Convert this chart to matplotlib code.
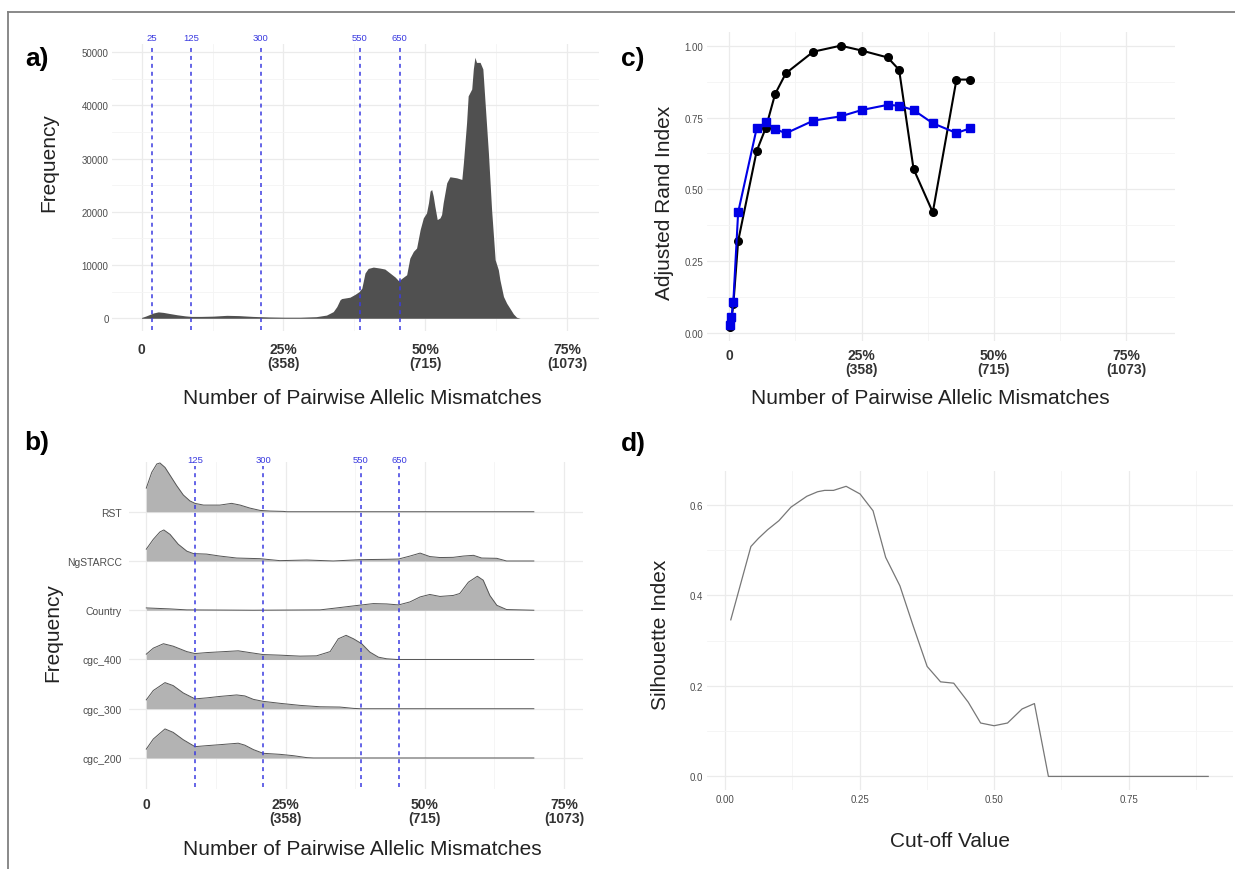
import matplotlib
matplotlib.use("Agg")
import matplotlib.pyplot as plt
from matplotlib.lines import Line2D
from matplotlib.ticker import FixedLocator
import numpy as np

plt.rcParams['font.family'] = ['Liberation Sans', 'DejaVu Sans']

# ---------------- data ----------------
# a) histogram of pairwise allelic mismatches (profile read off the picture)
hist_x = [0, 10, 20, 30, 42, 55, 70, 90, 110, 125, 150, 180, 215, 245, 280, 320, 360, 400,
          440, 466, 483, 492, 500, 504, 525, 538, 548, 555, 563, 571, 584, 601, 613, 626,
          639, 647, 651, 660, 668, 676, 685, 693, 702, 710, 718, 723, 727, 731, 735, 739,
          745, 752, 756, 760, 769, 777, 794, 807, 811, 819, 823, 832, 836, 840, 844, 853,
          860, 865, 874, 882, 891, 899, 903, 912, 920, 928, 937, 945, 954]
hist_y = [150, 400, 700, 1000, 1200, 1100, 900, 650, 450, 350, 350, 400, 550, 500, 350, 250,
          200, 200, 300, 600, 1250, 2200, 3460, 3700, 3960, 4500, 5000, 5660, 8500, 9370,
          9620, 9430, 9250, 8500, 7740, 7100, 7230, 7740, 8180, 11300, 12580, 13200, 16670,
          18870, 19800, 21700, 23900, 24200, 22960, 21070, 18550, 18870, 19500, 21700, 25470,
          26600, 26400, 26100, 29250, 36800, 41800, 43100, 46860, 49060, 48100, 48100, 46860,
          41200, 31100, 20440, 11000, 9120, 7230, 4090, 2830, 1890, 820, 190, 0]

cutoffs_a = [25, 125, 300, 550, 650]
cutoffs_b = [125, 300, 550, 650]

x_ticks = [0, 357.5, 715, 1072.5]
x_ticklabels = ["0", "25%\n(358)", "50%\n(715)", "75%\n(1073)"]

# b) ridgelines (heights relative to row spacing)
ridge_names = ["RST", "NgSTARCC", "Country", "cgc_400", "cgc_300", "cgc_200"]
rst_x = [0, 14, 27, 35, 48, 61, 78, 95, 112, 125, 147, 189, 219, 241, 266, 292, 318, 352, 360, 995]
rst_h = [0.48, 0.80, 0.97, 0.99, 0.90, 0.74, 0.53, 0.34, 0.22, 0.17, 0.135, 0.135, 0.17, 0.135,
         0.074, 0.027, 0.014, 0.007, 0.0, 0.0]
ng_x = [0, 18, 35, 45, 61, 82, 104, 121, 155, 189, 232, 292, 343, 412, 480, 549, 617, 648, 677,
        703, 728, 754, 788, 814, 840, 861, 900, 925, 995]
ng_h = [0.24, 0.44, 0.59, 0.63, 0.54, 0.34, 0.20, 0.15, 0.14, 0.10, 0.06, 0.047, 0.007, 0.02,
        0.0, 0.027, 0.034, 0.04, 0.10, 0.16, 0.09, 0.07, 0.074, 0.10, 0.115, 0.06, 0.054, 0.0, 0.0]
co_x = [0, 61, 104, 275, 446, 489, 532, 583, 617, 648, 677, 703, 728, 754, 788, 805, 827, 850,
        865, 882, 900, 925, 995]
co_h = [0.047, 0.027, 0.007, 0.0, 0.007, 0.047, 0.088, 0.135, 0.128, 0.108, 0.169, 0.27, 0.32,
        0.28, 0.30, 0.34, 0.57, 0.69, 0.61, 0.30, 0.10, 0.014, 0.0]
c400_x = [0, 18, 44, 69, 104, 125, 155, 189, 236, 266, 300, 343, 395, 437, 472, 493, 513, 532,
          553, 574, 596, 617, 643, 995]
c400_h = [0.108, 0.23, 0.32, 0.27, 0.16, 0.12, 0.14, 0.155, 0.176, 0.14, 0.10, 0.088, 0.068,
          0.074, 0.16, 0.42, 0.49, 0.42, 0.32, 0.15, 0.047, 0.014, 0.0, 0.0]
c300_x = [0, 18, 48, 69, 95, 125, 155, 189, 232, 253, 275, 300, 343, 395, 446, 497, 532, 549, 995]
c300_h = [0.18, 0.37, 0.53, 0.47, 0.32, 0.20, 0.22, 0.25, 0.28, 0.26, 0.19, 0.15, 0.11, 0.068,
          0.04, 0.034, 0.007, 0.0, 0.0]
c200_x = [0, 18, 48, 69, 95, 125, 155, 189, 236, 253, 275, 300, 343, 377, 412, 429, 995]
c200_h = [0.18, 0.385, 0.59, 0.52, 0.37, 0.23, 0.25, 0.27, 0.30, 0.26, 0.17, 0.095, 0.074,
          0.047, 0.007, 0.0, 0.0]

# c) adjusted Rand index
ari_x = [2, 6, 11, 24, 74, 99, 124, 153, 227, 301, 358, 428, 459, 498, 550, 614, 650]
ari_black = [0.02, 0.05, 0.10, 0.32, 0.633, 0.715, 0.832, 0.904, 0.979, 1.0, 0.983, 0.959,
             0.916, 0.571, 0.42, 0.882, 0.882]
ari_blue = [0.026, 0.055, 0.109, 0.42, 0.712, 0.733, 0.71, 0.695, 0.739, 0.754, 0.776, 0.794,
            0.791, 0.776, 0.73, 0.696, 0.712]

# d) silhouette index
sil_x = [0.0106, 0.048, 0.062, 0.079, 0.1, 0.1225, 0.152, 0.172, 0.185, 0.2015, 0.225, 0.251,
         0.275, 0.2985, 0.325, 0.3495, 0.3756, 0.4005, 0.425, 0.452, 0.475, 0.5, 0.525, 0.552,
         0.575, 0.601, 0.65, 0.7, 0.75, 0.8, 0.85, 0.898]
sil_y = [0.346, 0.508, 0.526, 0.545, 0.565, 0.595, 0.619, 0.629, 0.632, 0.632, 0.641, 0.624,
         0.587, 0.484, 0.421, 0.333, 0.243, 0.209, 0.206, 0.164, 0.118, 0.112, 0.118, 0.149,
         0.161, 0.0, 0.0, 0.0, 0.0, 0.0, 0.0, 0.0]

# ---------------- figure ----------------
W, H = 1235, 870
fig = plt.figure(figsize=(W / 100, H / 100), dpi=100)

def px_axes(left, top, right, bottom):
    return fig.add_axes([left / W, 1 - bottom / H, (right - left) / W, (bottom - top) / H])

GRID_MAJ = dict(color='#ebebeb', lw=0.9)
GRID_MIN = dict(color='#f4f4f4', lw=0.6)
BLUE_V = '#3a3ae0'
TITLE_KW = dict(fontsize=15, color='#222222')

def minimal(ax):
    for s in ax.spines.values():
        s.set_visible(False)
    ax.tick_params(which='both', length=0)
    ax.set_axisbelow(True)
    ax.grid(which='major', **GRID_MAJ)
    ax.grid(which='minor', **GRID_MIN)

def bold_xticks(ax, pad):
    ax.set_xticks(x_ticks)
    ax.set_xticklabels(x_ticklabels, fontsize=10, fontweight='bold', color='#333333',
                       linespacing=1.05)
    ax.xaxis.set_minor_locator(FixedLocator([178.75, 536.25, 893.75]))
    ax.tick_params(axis='x', pad=pad)

# ---- a) ----
ax_a = px_axes(112, 45.3, 599, 332.3)
minimal(ax_a)
ax_a.fill_between(hist_x, hist_y, 0, color='#505050', lw=0, zorder=2)
ax_a.set_xlim(-74.6, 1152.7)
ax_a.set_ylim(-2450, 51500)
ax_a.set_yticks([0, 10000, 20000, 30000, 40000, 50000])
ax_a.set_yticklabels(["0", "10000", "20000", "30000", "40000", "50000"], fontsize=7, color='#4d4d4d')
ax_a.yaxis.set_minor_locator(FixedLocator([5000, 15000, 25000, 35000, 45000]))
ax_a.tick_params(axis='y', pad=2.4)
bold_xticks(ax_a, 7.5)
for v in cutoffs_a:
    ax_a.axvline(v, ymin=0.005, ymax=0.995, color=BLUE_V, lw=1.1, dashes=(2.6, 2.6), zorder=3)
    ax_a.text(v, 1.023, str(v), transform=ax_a.get_xaxis_transform(), ha='center', va='center',
              fontsize=6.8, color=BLUE_V, clip_on=False)

# ---- b) ----
ax_b = px_axes(128.5, 463, 583.3, 790)
minimal(ax_b)
ax_b.set_xlim(-45.7, 1122)
ax_b.set_ylim(0.37, 7.01)
ridges = [(rst_x, rst_h), (ng_x, ng_h), (co_x, co_h), (c400_x, c400_h), (c300_x, c300_h), (c200_x, c200_h)]
for i, (xs, hs) in enumerate(ridges):
    base = 6 - i
    top = base + np.asarray(hs)
    ax_b.fill_between(xs, base, top, color='#b3b3b3', lw=0, zorder=2 + i)
    ax_b.plot(xs, top, color='#555555', lw=0.7, zorder=2 + i)
ax_b.set_yticks([6, 5, 4, 3, 2, 1])
ax_b.set_yticklabels(ridge_names, fontsize=7.5, color='#4d4d4d')
ax_b.tick_params(axis='y', pad=4.8)
ax_b.grid(axis='y', which='minor', visible=False)
bold_xticks(ax_b, 5.5)
for v in cutoffs_b:
    ax_b.axvline(v, ymin=0.006, ymax=0.989, color=BLUE_V, lw=1.1, dashes=(2.6, 2.6), zorder=20)
    ax_b.text(v, 1.007, str(v), transform=ax_b.get_xaxis_transform(), ha='center', va='center',
              fontsize=6.8, color=BLUE_V, clip_on=False)

# ---- c) ----
ax_c = px_axes(706.7, 32.6, 1175, 342.3)
minimal(ax_c)
ax_c.plot(ari_x, ari_black, '-o', color='black', ms=5.5, lw=1.5, zorder=3)
ax_c.plot(ari_x, ari_blue, '-s', color='#0000e6', ms=5.2, lw=1.5, zorder=4)
ax_c.set_xlim(-61, 1204.6)
ax_c.set_ylim(-0.029, 1.049)
ax_c.set_yticks([0, 0.25, 0.5, 0.75, 1.0])
ax_c.set_yticklabels(["0.00", "0.25", "0.50", "0.75", "1.00"], fontsize=7, color='#4d4d4d')
ax_c.yaxis.set_minor_locator(FixedLocator([0.125, 0.375, 0.625, 0.875]))
ax_c.tick_params(axis='y', pad=2.5)
bold_xticks(ax_c, 4.6)

# ---- d) ----
ax_d = px_axes(707, 471.7, 1233, 791)
minimal(ax_d)
ax_d.plot(sil_x, sil_y, color='#777777', lw=0.9)
ax_d.set_xlim(-0.0336, 0.9441)
ax_d.set_ylim(-0.030, 0.6755)
ax_d.set_xticks([0, 0.25, 0.5, 0.75])
ax_d.set_xticklabels(["0.00", "0.25", "0.50", "0.75"], fontsize=7, color='#4d4d4d')
ax_d.xaxis.set_minor_locator(FixedLocator([0.125, 0.375, 0.625, 0.875]))
ax_d.set_yticks([0, 0.2, 0.4, 0.6])
ax_d.set_yticklabels(["0.0", "0.2", "0.4", "0.6"], fontsize=7, color='#4d4d4d')
ax_d.yaxis.set_minor_locator(FixedLocator([0.1, 0.3, 0.5]))
ax_d.tick_params(axis='x', pad=3.2)
ax_d.tick_params(axis='y', pad=3.0)

# ---- titles / labels ----
def ftext(x, y, s, **kw):
    fig.text(x / W, 1 - y / H, s, ha='center', va='center', **kw)

ftext(362, 398.3, "Number of Pairwise Allelic Mismatches", **TITLE_KW)
ftext(49, 163, "Frequency", rotation=90, **TITLE_KW)
ftext(930, 398.3, "Number of Pairwise Allelic Mismatches", **TITLE_KW)
ftext(665, 203, "Adjusted Rand Index", rotation=90, **TITLE_KW)
ftext(362, 850, "Number of Pairwise Allelic Mismatches", **TITLE_KW)
ftext(53, 633, "Frequency", rotation=90, **TITLE_KW)
ftext(950, 842, "Cut-off Value", **TITLE_KW)
ftext(661, 635, "Silhouette Index", rotation=90, **TITLE_KW)

PANEL_KW = dict(fontsize=19, fontweight='bold', color='black')
ftext(37, 59, "a)", **PANEL_KW)
ftext(37, 443, "b)", **PANEL_KW)
ftext(633, 59, "c)", **PANEL_KW)
ftext(633, 444, "d)", **PANEL_KW)

# frame of the original composite
fig.add_artist(Line2D([8 / W, 1], [1 - 13 / H, 1 - 13 / H], color='#808080', lw=1.3))
fig.add_artist(Line2D([8 / W, 8 / W], [0, 1 - 13 / H], color='#808080', lw=1.3))

fig.savefig("out.png", dpi=100)
